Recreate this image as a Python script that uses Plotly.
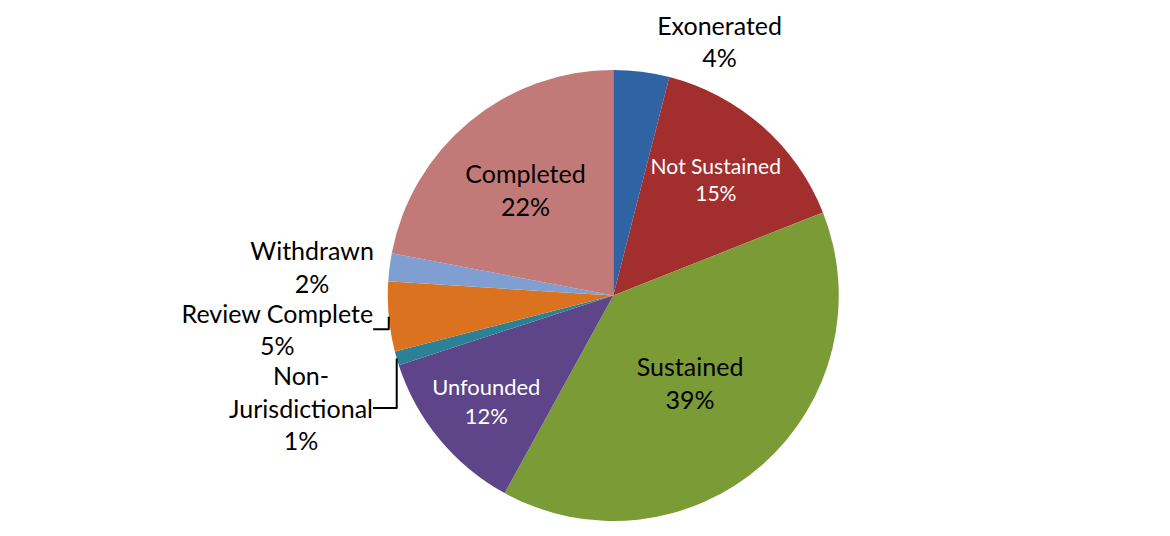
import plotly.graph_objects as go

labels = ["Exonerated", "Not Sustained", "Sustained", "Unfounded",
          "Non-Jurisdictional", "Review Complete", "Withdrawn", "Completed"]
display = ["Exonerated", "Not Sustained", "Sustained", "Unfounded",
           "Non-<br>Jurisdictional", "Review Complete", "Withdrawn", "Completed"]
values = [4, 15, 39, 12, 1, 5, 2, 22]
colors = ["#2F63A3", "#A32E2E", "#7A9B36", "#5E4488",
          "#2B8296", "#DB7220", "#7F9FD3", "#C27A78"]
text_colors = ["black", "white", "black", "white", "black", "black", "black", "black"]
positions = ["outside", "inside", "inside", "inside", "outside", "outside", "outside", "inside"]

texts = [f"{d}<br>{v}%" for d, v in zip(display, values)]

fig = go.Figure(go.Pie(
    labels=labels,
    values=values,
    text=texts,
    textinfo="text",
    textposition=positions,
    sort=False,
    direction="clockwise",
    rotation=0,
    marker=dict(colors=colors, line=dict(color="white", width=0)),
    textfont=dict(family="Lato, Open Sans, sans-serif", size=25, color=text_colors),
    insidetextorientation="horizontal",
    showlegend=False,
    hoverinfo="label+percent",
    domain=dict(x=[0.0, 0.73], y=[0.0, 1.0]),
))

fig.update_layout(
    width=1170, height=536,
    margin=dict(l=10, r=10, t=70, b=15),
    paper_bgcolor="white",
    plot_bgcolor="white",
)

fig.write_html("out.html")
